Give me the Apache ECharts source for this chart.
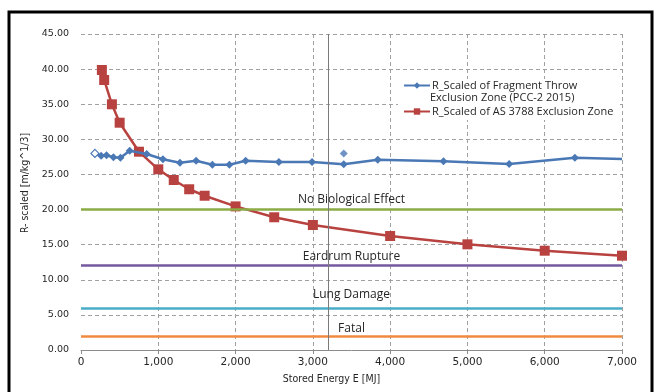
<!DOCTYPE html>
<html>
<head>
<meta charset="utf-8">
<script src="https://cdn.jsdelivr.net/npm/echarts@6/dist/echarts.min.js"></script>
<style>
  html, body { margin: 0; padding: 0; background: #fff; }
  #chart { width: 660px; height: 392px; }
</style>
</head>
<body>
<div id="chart"></div>
<script>
// Fragment throw exclusion zone (PCC-2 2015), scaled distance vs stored energy
const fragX = [180, 260, 330, 420, 510, 630, 850, 1060, 1280, 1490, 1700, 1920, 2130, 2560, 2990, 3400, 3840, 4690, 5540, 6390, 7000];
const fragY = [28.0, 27.67, 27.73, 27.44, 27.39, 28.38, 27.91, 27.16, 26.67, 26.96, 26.39, 26.39, 26.96, 26.77, 26.77, 26.45, 27.10, 26.87, 26.49, 27.39, 27.2];
// Isolated extra point of the same series
const fragExtraX = [3400];
const fragExtraY = [28.0];

// AS 3788 exclusion zone, scaled distance vs stored energy
const asX = [270, 300, 400, 500, 750, 1000, 1200, 1400, 1600, 2000, 2500, 3000, 4000, 5000, 6000, 7000];
const asY = [39.87, 38.45, 34.99, 32.37, 28.24, 25.73, 24.21, 22.89, 21.97, 20.45, 18.90, 17.80, 16.23, 15.05, 14.14, 13.43];

// Blast overpressure effect thresholds
const thresholdValues = [20, 12, 6, 2];
const thresholdNames = ['No Biological Effect', 'Eardrum Rupture', 'Lung Damage', 'Fatal'];
const thresholdColors = ['#8bab46', '#7459a0', '#4aacc8', '#f08a3e'];
const thresholdLabelGap = [4, 3, 7, 1];

// Reference energy marker
const markerEnergy = 3200;

const seriesNames = ['R_Scaled of Fragment Throw Exclusion Zone (PCC-2 2015)', 'R_Scaled of AS 3788 Exclusion Zone'];

const BLUE = '#4a78b5';
const RED = '#b8423f';
const TXT = '#262626';
const narrowFont = '"Liberation Sans Narrow", "DejaVu Sans Condensed", "Liberation Sans", sans-serif';

const fragData = fragX.map((x, i) => {
  const item = { value: [x, fragY[i]] };
  if (i === 0) item.itemStyle = { color: '#fff', borderColor: BLUE, borderWidth: 1.2 };
  if (i === fragX.length - 1) item.symbol = 'none';
  return item;
});
const fragExtra = fragExtraX.map((x, i) => [x, fragExtraY[i]]);
const asData = asX.map((x, i) => [x, asY[i]]);

const markLines = thresholdValues.map((v, i) => ({
  yAxis: v,
  lineStyle: { color: thresholdColors[i], width: 2.5, type: 'solid' },
  label: {
    show: true, position: 'middle', formatter: thresholdNames[i],
    color: TXT, fontFamily: 'Open Sans', fontSize: 12, distance: thresholdLabelGap[i]
  }
}));
markLines.push({
  xAxis: markerEnergy,
  lineStyle: { color: '#7a7a7a', width: 1, type: 'solid' },
  label: { show: false }
});

const chart = echarts.init(document.getElementById('chart'), null, { renderer: 'canvas' });
chart.setOption({
  animation: false,
  backgroundColor: '#fff',
  grid: { left: 81, right: 38, top: 34, bottom: 42 },
  xAxis: {
    type: 'value', min: 0, max: 7000, interval: 1000,
    name: 'Stored Energy E [MJ]', nameLocation: 'middle', nameGap: 24,
    nameTextStyle: { color: TXT, fontFamily: narrowFont, fontSize: 10.5, padding: [0, 40, 0, 0] },
    axisLine: { show: true, lineStyle: { color: '#8c8c8c', width: 1 } },
    axisTick: { show: true, length: 4, lineStyle: { color: '#8c8c8c' } },
    axisLabel: {
      color: TXT, fontFamily: 'DejaVu Sans', fontSize: 10.5, margin: 7,
      formatter: v => v.toLocaleString('en-US')
    },
    splitLine: { show: true, showMinLine: false, lineStyle: { color: '#a0a0a0', type: [4, 3], width: 1 } }
  },
  yAxis: {
    type: 'value', min: 0, max: 45, interval: 5,
    name: 'R- scaled [m/kg^1/3]', nameLocation: 'middle', nameGap: 44, nameRotate: 90,
    nameTextStyle: { color: TXT, fontFamily: narrowFont, fontSize: 10.5, padding: [0, 0, 0, 18] },
    axisLine: { show: false },
    axisTick: { show: false },
    axisLabel: {
      color: TXT, fontFamily: 'DejaVu Sans', fontSize: 9.5, margin: 12,
      formatter: v => v.toFixed(2)
    },
    splitLine: { show: true, lineStyle: { color: '#a0a0a0', type: [4, 3], width: 1 } }
  },
  legend: {
    orient: 'vertical', left: 398, top: 79,
    padding: [1, 5, 3, 5], itemGap: 15, itemWidth: 26, itemHeight: 8,
    backgroundColor: '#fff',
    data: seriesNames,
    formatter: name => name === seriesNames[0] ? 'R_Scaled of Fragment Throw' : name,
    textStyle: { color: TXT, fontFamily: 'Open Sans', fontSize: 11, padding: [0, 0, 0, -3] }
  },
  graphic: [
    {
      type: 'text', left: 430, top: 92, z: 100,
      style: { text: 'Exclusion Zone (PCC-2 2015)', fill: TXT, font: '11px "Open Sans"' }
    },
    {
      type: 'rect', z: 100, silent: true,
      shape: { x: 9, y: 12, width: 643, height: 400 },
      style: { fill: 'none', stroke: '#000', lineWidth: 3 }
    }
  ],
  series: [
    {
      name: 'thresholds', type: 'line', data: [], silent: true, z: 1,
      markLine: { symbol: 'none', silent: true, animation: false, data: markLines }
    },
    {
      name: seriesNames[1], type: 'line', data: asData, z: 3,
      symbol: 'rect', symbolSize: 10,
      lineStyle: { color: RED, width: 2.5 },
      itemStyle: { color: RED }
    },
    {
      name: seriesNames[0], type: 'line', data: fragData, z: 4,
      symbol: 'diamond', symbolSize: 8,
      lineStyle: { color: BLUE, width: 2.5 },
      itemStyle: { color: BLUE }
    },
    {
      name: 'extra', type: 'scatter', data: fragExtra, z: 4,
      symbol: 'diamond', symbolSize: 8,
      itemStyle: { color: BLUE }
    }
  ]
});
</script>
</body>
</html>
